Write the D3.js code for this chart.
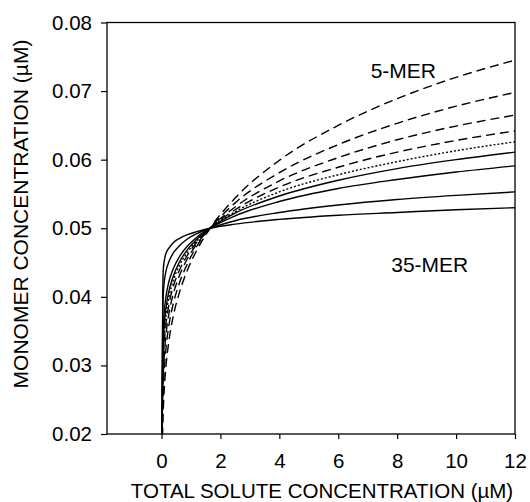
<!DOCTYPE html>
<html>
<head>
<meta charset="utf-8">
<title>Monomer concentration</title>
<script src="https://d3js.org/d3.v7.min.js"></script>
<style>
  body { margin: 0; background: #fff; }
  text { font-family: "Liberation Sans", Arial, sans-serif; fill: #000; }
</style>
</head>
<body>
<svg id="chart" width="530" height="502"></svg>
<script>
// ---------------- data ----------------
var totalSolute = [0.02, 0.03, 0.04, 0.06, 0.1, 0.15, 0.25, 0.4, 0.6, 0.9, 1.2, 1.65, 2.5, 4, 6, 8, 10, 12];

var mer5  = [0.0155, 0.0186, 0.0207, 0.0235, 0.0270, 0.0298, 0.0335, 0.0372, 0.0405, 0.0441, 0.0468, 0.0500, 0.0544, 0.0599, 0.0650, 0.0689, 0.0720, 0.0745];
var mer6  = [0.0174, 0.0210, 0.0234, 0.0263, 0.0297, 0.0324, 0.0358, 0.0390, 0.0419, 0.0450, 0.0474, 0.0500, 0.0537, 0.0581, 0.0622, 0.0653, 0.0678, 0.0698];
var mer7  = [0.0185, 0.0230, 0.0255, 0.0285, 0.0319, 0.0344, 0.0375, 0.0404, 0.0430, 0.0457, 0.0477, 0.0500, 0.0531, 0.0569, 0.0603, 0.0629, 0.0649, 0.0665];
var mer8  = [0.0192, 0.0245, 0.0273, 0.0304, 0.0336, 0.0359, 0.0388, 0.0415, 0.0438, 0.0462, 0.0480, 0.0500, 0.0527, 0.0560, 0.0589, 0.0611, 0.0628, 0.0642];
var mer9  = [0.0196, 0.0257, 0.0288, 0.0319, 0.0350, 0.0372, 0.0399, 0.0424, 0.0445, 0.0466, 0.0482, 0.0500, 0.0524, 0.0553, 0.0578, 0.0597, 0.0613, 0.0626];
var mer10 = [0.0198, 0.0268, 0.0300, 0.0332, 0.0362, 0.0383, 0.0408, 0.0430, 0.0450, 0.0470, 0.0484, 0.0500, 0.0522, 0.0547, 0.0570, 0.0587, 0.0600, 0.0611];
var mer12 = [0.0200, 0.0283, 0.0321, 0.0353, 0.0381, 0.0400, 0.0422, 0.0441, 0.0458, 0.0475, 0.0487, 0.0500, 0.0518, 0.0539, 0.0558, 0.0571, 0.0582, 0.0591];
var mer20 = [0.0200, 0.0299, 0.0367, 0.0402, 0.0424, 0.0437, 0.0451, 0.0464, 0.0474, 0.0485, 0.0492, 0.0500, 0.0511, 0.0523, 0.0534, 0.0542, 0.0548, 0.0553];
var mer35 = [0.0200, 0.0300, 0.0396, 0.0439, 0.0454, 0.0463, 0.0471, 0.0479, 0.0485, 0.0491, 0.0495, 0.0500, 0.0506, 0.0513, 0.0519, 0.0523, 0.0527, 0.0530];

var seriesList = [mer5, mer6, mer7, mer8, mer9, mer10, mer12, mer20, mer35];
var xTicks = [0, 2, 4, 6, 8, 10, 12];
var yTicks = [0.02, 0.03, 0.04, 0.05, 0.06, 0.07, 0.08];
var curveLabels = ["5-MER", "35-MER"];

// ---------------- layout ----------------
var pLeft = 107, pRight = 515, pTop = 22.5, pBottom = 434;
var svg = d3.select("#chart");

var x = d3.scaleLinear().domain([-1.85, 12]).range([pLeft, pRight]);
var y = d3.scaleLinear().domain([0.02, 0.08]).range([pBottom, pTop]);

svg.append("clipPath").attr("id", "plotclip")
   .append("rect")
   .attr("x", pLeft).attr("y", pTop)
   .attr("width", pRight - pLeft).attr("height", pBottom - pTop);

// dashed for the short oligomers, dotted, then solid
function dashFor(i) {
    if (i < 4) return "9,5";
    if (i == 4) return "2,2";
    return null;
}

var line = d3.line()
    .x(function(d, i) { return x(totalSolute[i]); })
    .y(function(d) { return y(d); })
    .curve(d3.curveMonotoneX);

svg.append("g").attr("clip-path", "url(#plotclip)")
   .selectAll("path")
   .data(seriesList)
   .enter()
   .append("path")
   .attr("d", line)
   .attr("fill", "none")
   .attr("stroke", "#000")
   .attr("stroke-width", 1.4)
   .attr("stroke-dasharray", function(d, i) { return dashFor(i); });

// ---------------- axes ----------------
var xAxis = d3.axisBottom(x).tickValues(xTicks).tickSize(5).tickPadding(14)
    .tickFormat(d3.format("d"));
var gx = svg.append("g").attr("transform", "translate(0," + pBottom + ")").call(xAxis);
gx.select(".domain").remove();
gx.selectAll("line").attr("stroke", "#000").attr("stroke-width", 1.2);
gx.selectAll("text").attr("font-size", 20.5).attr("font-family", "Liberation Sans, Arial, sans-serif");

var yAxis = d3.axisLeft(y).tickValues(yTicks).tickSize(6).tickPadding(9)
    .tickFormat(d3.format(".2f"));
var gy = svg.append("g").attr("transform", "translate(" + pLeft + ",0)").call(yAxis);
gy.select(".domain").remove();
gy.selectAll("line").attr("stroke", "#000").attr("stroke-width", 1.2);
gy.selectAll("text").attr("font-size", 20.5).attr("font-family", "Liberation Sans, Arial, sans-serif");

// frame
svg.append("rect")
   .attr("x", pLeft).attr("y", pTop)
   .attr("width", pRight - pLeft).attr("height", pBottom - pTop)
   .attr("fill", "none").attr("stroke", "#000").attr("stroke-width", 1.3);

// titles
svg.append("text")
   .attr("x", (pLeft + pRight) / 2 + 11).attr("y", 498)
   .attr("text-anchor", "middle").attr("font-size", 20.5)
   .text("TOTAL SOLUTE CONCENTRATION (µM)");

svg.append("text")
   .attr("transform", "translate(28," + 214 + ") rotate(-90)")
   .attr("text-anchor", "middle").attr("font-size", 21)
   .text("MONOMER CONCENTRATION (µM)");

// curve labels
svg.append("text").attr("x", x(7.1)).attr("y", y(0.0719)).attr("font-size", 21).text(curveLabels[0]);
svg.append("text").attr("x", x(7.8)).attr("y", y(0.0436)).attr("font-size", 21).text(curveLabels[1]);
</script>
</body>
</html>
